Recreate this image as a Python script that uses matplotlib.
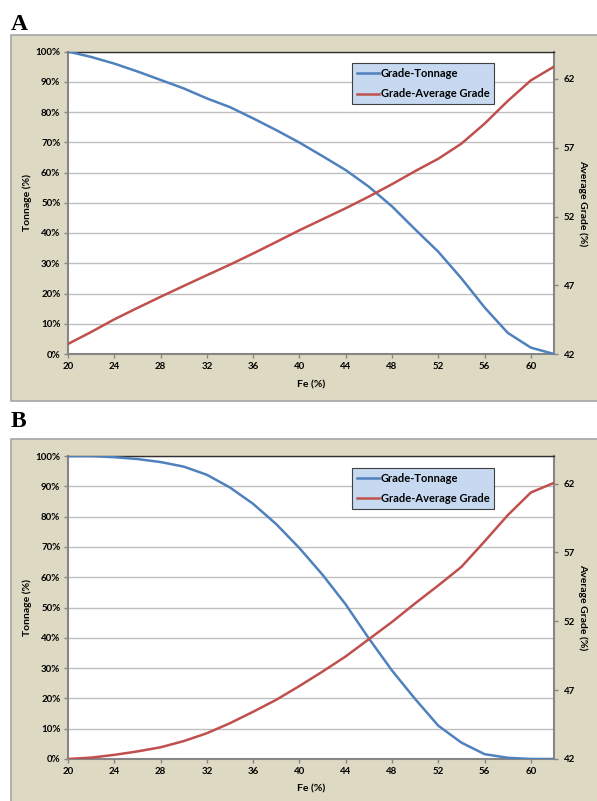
import matplotlib
matplotlib.use("Agg")
import matplotlib.pyplot as plt
from matplotlib.patches import Rectangle

plt.rcParams['font.family'] = ['Lato', 'DejaVu Sans']

fe = [20, 22, 24, 26, 28, 30, 32, 34, 36, 38, 40, 42, 44, 46, 48, 50, 52, 54, 56, 58, 60, 62]

tonnage_a = [100, 98.2, 96.0, 93.4, 90.6, 87.8, 84.5, 81.6, 77.9, 74.0, 69.9, 65.4,
             60.8, 55.3, 48.8, 41.2, 33.8, 25.0, 15.4, 7.0, 2.1, 0.0]
grade_a = [42.73, 43.6, 44.52, 45.35, 46.16, 46.95, 47.73, 48.5, 49.31, 50.15, 51.0, 51.8,
           52.6, 53.45, 54.35, 55.3, 56.2, 57.3, 58.75, 60.4, 61.9, 62.9]

tonnage_b = [100, 100, 99.6, 99.0, 98.0, 96.5, 93.8, 89.6, 84.2, 77.5, 69.6, 60.8,
             51.0, 39.8, 29.2, 19.8, 11.0, 5.4, 1.6, 0.4, 0.0, 0.0]
grade_b = [42.0, 42.1, 42.3, 42.55, 42.85, 43.3, 43.87, 44.6, 45.43, 46.3, 47.3, 48.35,
           49.45, 50.7, 51.95, 53.3, 54.6, 55.95, 57.8, 59.7, 61.35, 62.05]

x_ticks = [20, 24, 28, 32, 36, 40, 44, 48, 52, 56, 60]
y_ticks = list(range(0, 101, 10))
y_tick_labels = [f"{v}%" for v in y_ticks]
r_ticks = [42, 47, 52, 57, 62]

W, H = 597, 801
fig = plt.figure(figsize=(W / 100, H / 100), dpi=100)

BEIGE = '#DDD9C3'
BLUE = '#4F81BD'
RED = '#C0504D'
SPINE = '#868686'
GRID = '#BFBFBF'


def panel(letter, box_top, box_bot, plot_top, plot_bot, ton, grd, letter_y, xlab_y):
    ph = plot_bot - plot_top
    fig.patches.append(Rectangle((11 / W, 1 - box_bot / H), (620 - 11) / W, (box_bot - box_top) / H,
                                 transform=fig.transFigure, facecolor=BEIGE,
                                 edgecolor='#A6A6A6', lw=1.2, zorder=-5))
    fig.text(11 / W, 1 - letter_y / H, letter, fontsize=17, fontweight='bold',
             family='Liberation Serif', ha='left', va='baseline')
    ax = fig.add_axes([68 / W, 1 - plot_bot / H, 486 / W, ph / H])
    ax.set_zorder(2)
    ax.set_facecolor('white')
    ax.set_xlim(20, 62)
    ax.set_ylim(0, 100)
    ax.set_xticks(x_ticks)
    ax.set_yticks(y_ticks)
    ax.set_yticklabels(y_tick_labels)
    ax.grid(axis='y', color=GRID, lw=1)
    ax.set_axisbelow(True)
    for s in ['left', 'bottom', 'right']:
        ax.spines[s].set_color(SPINE)
        ax.spines[s].set_linewidth(1.5)
    ax.spines['top'].set_color('#303030')
    ax.spines['top'].set_linewidth(1)
    ax.tick_params(axis='both', labelsize=7, length=3, color=SPINE, width=1, pad=2.5)
    for lab in ax.get_xticklabels() + ax.get_yticklabels():
        lab.set_fontweight('bold')
    ax.set_xlabel('Fe (%)', fontsize=7.5, fontweight='bold')
    ax.xaxis.set_label_coords(0.5, (plot_bot - xlab_y) / ph)
    ax.set_ylabel('Tonnage (%)', fontsize=7.5, fontweight='bold')
    ax.yaxis.set_label_coords((32 - 68) / 486, 0.5)
    l1, = ax.plot(fe, ton, color=BLUE, lw=1.8, label='Grade-Tonnage', zorder=3)

    ax2 = ax.twinx()
    ax2.set_zorder(3)
    ax2.patch.set_visible(False)
    ax2.set_ylim(42, 64)
    ax2.set_yticks(r_ticks)
    ax2.tick_params(axis='y', labelsize=7, length=3, color=SPINE, width=1, pad=4)
    for lab in ax2.get_yticklabels():
        lab.set_fontweight('bold')
    for s in ax2.spines.values():
        s.set_visible(False)
    l2, = ax2.plot(fe, grd, color=RED, lw=1.8, label='Grade-Average Grade', zorder=3)
    ax2.set_ylabel('Average Grade (%)', fontsize=7.5, fontweight='bold', rotation=-90)
    ax2.yaxis.set_label_coords((588 - 68) / 486, 0.5)

    leg = ax2.legend(handles=[l1, l2], loc='upper left', bbox_to_anchor=(0.584, 0.962),
                     fontsize=8, frameon=True, fancybox=False, handlelength=2.0,
                     handletextpad=0.15, borderpad=0.45, labelspacing=0.85, borderaxespad=0)
    fr = leg.get_frame()
    fr.set_facecolor('#C6D9F1')
    fr.set_edgecolor('#404040')
    fr.set_linewidth(0.8)
    fr.set_alpha(1)
    for t in leg.get_texts():
        t.set_fontweight('bold')
    return ax


panel('A', 35, 401, 51.5, 354, tonnage_a, grade_a, 30, 380)
panel('B', 439, 840, 456, 759, tonnage_b, grade_b, 427, 784)

fig.savefig('out.png', dpi=100)
